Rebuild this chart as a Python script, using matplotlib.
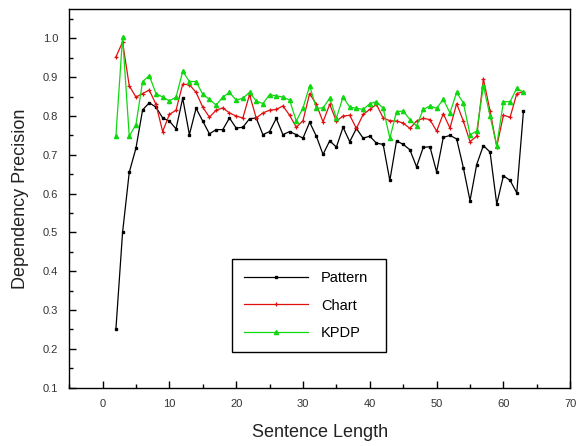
import matplotlib
matplotlib.use('Agg')
import matplotlib.pyplot as plt
from matplotlib.ticker import MultipleLocator
import numpy as np

plt.rcParams['font.family'] = ['Liberation Sans', 'DejaVu Sans']

# sentence lengths 2..63
lengths = list(range(2, 64))

pattern = [0.25, 0.50, 0.655, 0.717, 0.816, 0.834, 0.823, 0.795, 0.787, 0.767,
           0.846, 0.752, 0.82, 0.787, 0.754, 0.765, 0.765, 0.795, 0.769, 0.771,
           0.793, 0.795, 0.752, 0.76, 0.794, 0.752, 0.76, 0.752, 0.743, 0.784,
           0.748, 0.701, 0.736, 0.72, 0.771, 0.734, 0.768, 0.743, 0.748, 0.73,
           0.727, 0.634, 0.736, 0.727, 0.713, 0.669, 0.719, 0.721, 0.656, 0.745,
           0.75, 0.741, 0.667, 0.582, 0.675, 0.724, 0.707, 0.573, 0.646, 0.634,
           0.602, 0.813]

chart = [0.952, 0.991, 0.878, 0.849, 0.858, 0.867, 0.83, 0.76, 0.804, 0.815,
         0.882, 0.881, 0.861, 0.823, 0.797, 0.815, 0.821, 0.808, 0.80, 0.795,
         0.855, 0.795, 0.808, 0.815, 0.817, 0.826, 0.802, 0.771, 0.788, 0.858,
         0.83, 0.785, 0.83, 0.787, 0.80, 0.802, 0.768, 0.804, 0.817, 0.83,
         0.795, 0.788, 0.787, 0.782, 0.768, 0.787, 0.794, 0.791, 0.761, 0.806,
         0.769, 0.832, 0.787, 0.734, 0.748, 0.896, 0.813, 0.721, 0.802, 0.797,
         0.858, 0.863]

kpdp = [0.748, 1.004, 0.748, 0.778, 0.889, 0.904, 0.858, 0.849, 0.839, 0.849,
        0.915, 0.889, 0.889, 0.856, 0.843, 0.828, 0.849, 0.861, 0.841, 0.846,
        0.861, 0.839, 0.832, 0.855, 0.852, 0.849, 0.841, 0.787, 0.821, 0.878,
        0.82, 0.821, 0.846, 0.795, 0.849, 0.823, 0.82, 0.817, 0.832, 0.837,
        0.82, 0.743, 0.811, 0.813, 0.791, 0.774, 0.817, 0.826, 0.82, 0.843,
        0.808, 0.861, 0.834, 0.752, 0.761, 0.878, 0.80, 0.724, 0.837, 0.837,
        0.872, 0.861]

fig = plt.figure(figsize=(5.76, 4.46), dpi=100)
ax = fig.add_axes([0.12, 0.131, 0.87, 0.848])

ax.plot(lengths, pattern, color='black', lw=0.9, marker='s', ms=1.8, label='Pattern')
ax.plot(lengths, chart, color='#e01010', lw=0.9, marker='+', ms=3.0, mew=0.9, label='Chart')
ax.plot(lengths, kpdp, color='#10d810', lw=0.9, marker='^', ms=3.0, label='KPDP')

ax.set_xlim(-5, 70)
ax.set_ylim(0.1, 1.075)
ax.xaxis.set_major_locator(MultipleLocator(10))
ax.xaxis.set_minor_locator(MultipleLocator(5))
ax.yaxis.set_major_locator(MultipleLocator(0.1))
ax.yaxis.set_minor_locator(MultipleLocator(0.05))
ax.tick_params(which='both', direction='in', top=False, right=False,
               labelsize=8, labelcolor='#333333')
ax.tick_params(which='major', length=5, width=1, pad=8)
ax.tick_params(which='minor', length=3, width=1)
ax.set_xticks(np.arange(0, 71, 10))
ax.set_yticks(np.arange(0.1, 1.01, 0.1))
ax.set_yticklabels(['%.1f' % v for v in np.arange(0.1, 1.01, 0.1)])
for s in ax.spines.values():
    s.set_linewidth(1.0)

ax.set_xlabel('Sentence Length', fontsize=13, color='#222222', labelpad=11)
ax.set_ylabel('Dependency Precision', fontsize=13, color='#222222', labelpad=10)

leg = ax.legend(loc='lower left', bbox_to_anchor=(0.325, 0.094, 0.308, 0.249),
                mode='expand', fancybox=False, edgecolor='black', fontsize=10.5,
                handlelength=4.4, handletextpad=0.9, borderpad=0.8,
                labelspacing=0.95, borderaxespad=0, framealpha=1)
leg.get_frame().set_linewidth(1.0)

plt.savefig('out.png', dpi=100)
